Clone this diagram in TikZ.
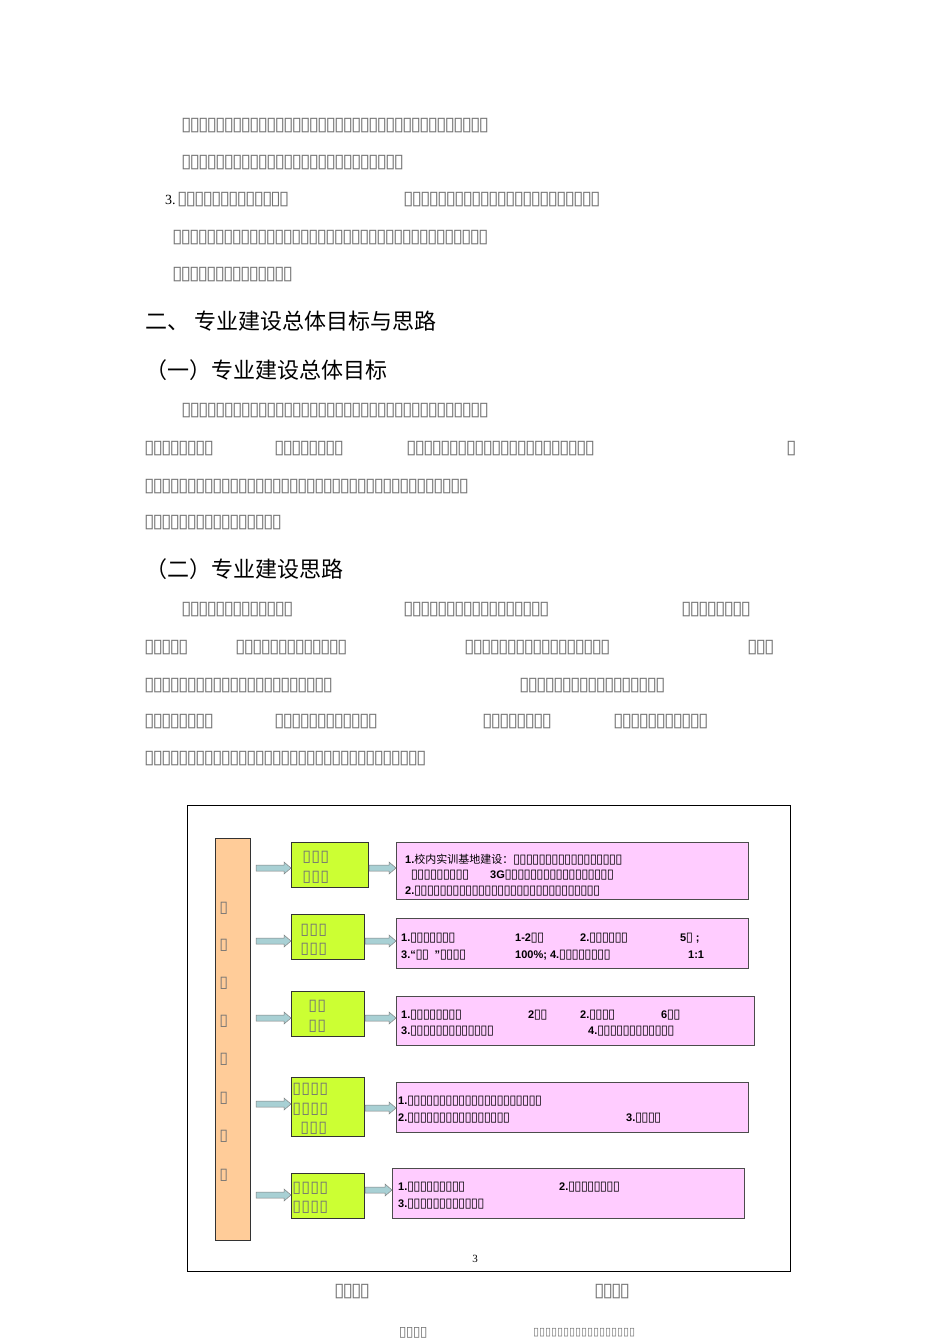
\documentclass[tikz,border=0pt]{standalone}
\usepackage{fontspec}
\setmainfont{Liberation Serif}
\newfontfamily\dv{DejaVu Sans}
\newfontfamily\cjk{Noto Sans CJK SC}
\newfontfamily\arl{Liberation Sans}
\newcommand\tofs[3]{{\dv\fontsize{#1}{#1}\selectfont\foreach\i in {1,...,#3}{\makebox[#2]{▯}}}}
\definecolor{org}{HTML}{FFCC99}
\definecolor{grn}{HTML}{CCFF33}
\definecolor{pnk}{HTML}{FFCCFF}
\definecolor{arw}{HTML}{A8D0D4}
\tikzset{
 tl/.style={anchor=west,inner sep=0pt,text=black!55},
 pl/.style={anchor=west,inner sep=0pt,font=\arl\bfseries\fontsize{11}{11}\selectfont},
 hd/.style={anchor=west,inner sep=0pt,font=\cjk\fontsize{22}{22}\selectfont},
 gbox/.style={draw=black!80,fill=grn,line width=0.8pt},
 pbox/.style={draw=black!70,fill=pnk,line width=0.8pt},
 barw/.style={draw=black!50,fill=arw,line width=0.5pt},
}
\newcommand\TB[1]{\tofs{19}{8.5pt}{#1}}
\newcommand\TP[1]{\tofs{13}{6.4pt}{#1}}
\newcommand\TG[1]{\tofs{16}{9pt}{#1}}
\begin{document}
\begin{tikzpicture}[x=1pt,y=-1pt]
\useasboundingbox[fill=white] (0,0) rectangle (950,1344);
% body text
\node[tl] (l1) at (182,126) {\TB{36}};
\node[tl] (l2) at (182,163) {\TB{26}};
\node[tl] (l3a) at (165,200) {{\color{black}\fontsize{14}{14}\selectfont 3.\,}\TB{13}};
\node[tl] (l3b) at (404,200) {\TB{23}};
\node[tl] (l4) at (173,238) {\TB{37}};
\node[tl] (l5) at (173,275) {\TB{14}};
\node[hd] (h1) at (145,321) {二、 专业建设总体目标与思路};
\node[hd] (h2) at (145,370) {（一）专业建设总体目标};
\node[tl] (m1) at (182,411) {\TB{36}};
\node[tl] (m2a) at (145,449) {\TB{8}};
\node[tl] (m2b) at (275,449) {\TB{8}};
\node[tl] (m2c) at (407,449) {\TB{22}};
\node[tl] (m2d) at (787,449) {\TB{1}};
\node[tl] (m3) at (145,487) {\TB{38}};
\node[tl] (m4) at (145,523) {\TB{16}};
\node[hd] (h3) at (145,569) {（二）专业建设思路};
\node[tl] (n1a) at (182,610) {\TB{13}};
\node[tl] (n1b) at (404,610) {\TB{17}};
\node[tl] (n1c) at (682,610) {\TB{8}};
\node[tl] (n2a) at (145,648) {\TB{5}};
\node[tl] (n2b) at (236,648) {\TB{13}};
\node[tl] (n2c) at (465,648) {\TB{17}};
\node[tl] (n2d) at (748,648) {\TB{3}};
\node[tl] (n3a) at (145,686) {\TB{22}};
\node[tl] (n3b) at (520,686) {\TB{17}};
\node[tl] (n4a) at (145,722) {\TB{8}};
\node[tl] (n4b) at (275,722) {\TB{12}};
\node[tl] (n4c) at (483,722) {\TB{8}};
\node[tl] (n4d) at (614,722) {\TB{11}};
\node[tl] (n5) at (145,759) {\TB{33}};
% diagram frame
\draw[line width=0.9pt] (187,805) rectangle (790,1271);
\draw[fill=org,draw=black!80,line width=0.8pt] (215,838) rectangle (250,1240);
\foreach \yy in {908,945,983,1021,1059,1098,1136,1175}
  \node[tl] at (219,\yy) {\TG{1}};
% green boxes
\draw[gbox] (291,842) rectangle (368,887);
\node[tl] at (302,857) {\TG{3}};
\node[tl] at (302,877) {\TG{3}};
\draw[gbox] (291,914) rectangle (364,959);
\node[tl] at (300,930) {\TG{3}};
\node[tl] at (300,949) {\TG{3}};
\draw[gbox] (291,991) rectangle (364,1036);
\node[tl] at (308,1006) {\TG{2}};
\node[tl] at (308,1026) {\TG{2}};
\draw[gbox] (291,1077) rectangle (364,1136);
\node[tl] at (292,1089) {\TG{4}};
\node[tl] at (292,1109) {\TG{4}};
\node[tl] at (300,1128) {\TG{3}};
\draw[gbox] (291,1173) rectangle (364,1218);
\node[tl] at (292,1188) {\TG{4}};
\node[tl] at (292,1207) {\TG{4}};
% pink boxes
\draw[pbox] (396,842) rectangle (748,899);
\draw[pbox] (396,918) rectangle (748,968);
\draw[pbox] (396,996) rectangle (754,1045);
\draw[pbox] (396,1082) rectangle (748,1132);
\draw[pbox] (392,1168) rectangle (744,1218);
% block arrows
\foreach \ya/\xa/\xb in {868/256/291, 868/369/396, 941/256/291, 941/365/396, 1018/256/291, 1018/365/396, 1104/256/291, 1108/365/396, 1195/256/291, 1190/365/392}
  \draw[barw] (\xa,\ya-3) -- (\xb-7,\ya-3) -- (\xb-7,\ya-6) -- (\xb,\ya) -- (\xb-7,\ya+6) -- (\xb-7,\ya+3) -- (\xa,\ya+3) -- cycle;
% pink texts
\node[pl] at (405,860) {1.{\cjk\mdseries\fontsize{11}{11}\selectfont 校内实训基地建设：}\TP{17}};
\node[pl] at (411,875) {\TP{9}};
\node[pl] at (490,875) {3G\TP{17}};
\node[pl] at (405,891) {2.\TP{29}};
\node[pl] at (401,938) {1.\TP{7}};
\node[pl] at (515,938) {1-2\TP{2}};
\node[pl] at (580,938) {2.\TP{6}};
\node[pl] at (680,938) {5\TP{1} ;};
\node[pl] at (401,955) {3.“\TP{2}\hspace{6pt}”\TP{4}};
\node[pl] at (515,955) {100\%; 4.\TP{8}};
\node[pl] at (688,955) {1:1};
\node[pl] at (401,1015) {1.\TP{8}};
\node[pl] at (528,1015) {2\TP{2}};
\node[pl] at (580,1015) {2.\TP{4}};
\node[pl] at (661,1015) {6\TP{2}};
\node[pl] at (401,1031) {3.\TP{13}};
\node[pl] at (588,1031) {4.\TP{12}};
\node[pl] at (398,1101) {1.\TP{21}};
\node[pl] at (398,1118) {2.\TP{16}};
\node[pl] at (626,1118) {3.\TP{4}};
\node[pl] at (398,1187) {1.\TP{9}};
\node[pl] at (559,1187) {2.\TP{8}};
\node[pl] at (398,1204) {3.\TP{12}};
\node[anchor=center,font=\fontsize{11}{11}\selectfont] (pg) at (475,1259) {3};
\node[tl] at (335,1292) {\TB{4}};
\node[tl] at (595,1292) {\TB{4}};
\node[tl] at (399,1333) {\tofs{14}{7pt}{4}};
\node[tl] at (533,1333) {\tofs{11}{6pt}{17}};
\end{tikzpicture}
\end{document}
